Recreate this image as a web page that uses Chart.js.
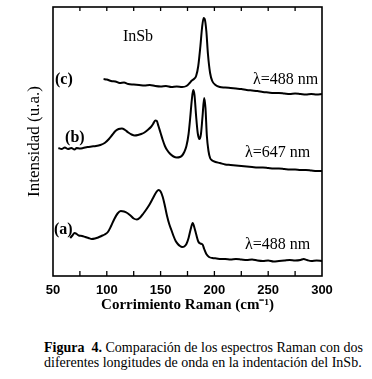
<!DOCTYPE html>
<html>
<head>
<meta charset="utf-8">
<script src="https://cdn.jsdelivr.net/npm/chart.js@4"></script>
<style>
  body { margin: 0; background: #fff; }
  #wrap { position: relative; width: 372px; height: 330px; }
  #caption {
    position: absolute; left: 44px; top: 340px; width: 330px;
    font-family: "Liberation Serif", "Times New Roman", serif;
    font-size: 14px; line-height: 15px; color: #000; white-space: nowrap;
  }
</style>
</head>
<body>
<div id="wrap"><canvas id="ramanChart"></canvas></div>
<div id="caption"><b>Figura&nbsp; 4.</b> Comparación de los espectros Raman con dos<br>diferentes longitudes de onda en la indentación del InSb.</div>
<script>
// === Data (Raman shift in cm-1, intensity in a.u. offsets) ===
const xTicks = [50, 100, 150, 200, 250, 300];

// (a) λ=488 nm, bottom spectrum
const shiftA = [66, 68, 70, 72, 74, 77, 80, 83, 86, 89, 92, 95, 98, 101, 104, 107, 110, 113, 116, 119,
  122, 125, 128, 131, 134, 137, 140, 143, 145.5, 148, 150, 152, 154, 156, 158, 160, 162, 164, 166, 168,
  170, 172, 174, 176, 178, 179.8, 181.5, 183, 185, 187, 189, 190.5, 192.5, 195, 198, 202, 206, 210, 215,
  220, 225, 230, 235, 240, 245, 250, 255, 260, 265, 270, 275, 280, 283, 286, 290, 295, 300];
const intA = [38, 40.5, 43, 42, 40.5, 40, 39, 38, 37, 37.5, 38.5, 40, 41.5, 44, 50, 57, 62.5, 65, 64.5, 63,
  60.5, 57.5, 56.5, 58.5, 62.5, 67, 72, 78, 83, 86, 84.5, 79, 70, 60, 52, 46, 40, 35, 32, 30,
  29, 29.5, 32, 38, 47, 53, 48, 42, 34.5, 32.5, 31.5, 27, 22, 19, 18, 17.5, 17, 17, 16.5,
  17, 16.5, 16, 16.5, 15.5, 15, 15.5, 14.5, 15, 15.5, 16, 15.5, 16, 17, 16, 15, 15.5, 15];

// (b) λ=647 nm, middle spectrum
const shiftB = [55, 58, 61, 64, 67, 70, 72, 75, 78, 82, 86, 90, 94, 98, 102, 105, 108, 111, 114, 117,
  120, 123, 126, 129, 132, 135, 138, 141, 143, 145, 146.5, 148, 150, 152, 154, 156, 159, 162, 165, 168,
  170, 172, 174, 176, 177.5, 179, 180.3, 181.5, 183, 184.5, 186, 187.5, 189, 190.5, 191.7, 193, 194.5, 196, 198, 201,
  205, 210, 215, 220, 225, 230, 235, 240, 245, 250, 255, 260, 265, 270, 275, 280, 285, 290, 295, 300];
const intB = [128, 127, 128.5, 127, 128, 126.5, 128, 127.5, 128, 129, 129.5, 130, 131, 133, 137, 141, 145, 147, 147.5, 146,
  143.5, 141.5, 140.5, 141, 142, 143.5, 146, 149, 152, 155.5, 155, 150, 143, 136, 130, 126, 122, 119.5, 118.5, 119,
  120.5, 124, 130, 142, 158, 176, 186, 181, 160, 143, 137, 142, 160, 178, 168, 140, 125, 118, 115.5, 114,
  113, 111.5, 111, 110.5, 110, 109.5, 109, 108.5, 108.5, 108, 107.5, 107.5, 107, 106.5, 106.5, 106, 106, 105.5, 105, 105];

// (c) λ=488 nm, top spectrum
const shiftC = [97, 100, 104, 108, 112, 116, 120, 125, 130, 135, 140, 145, 150, 155, 160, 165, 170, 174, 177, 179,
  181, 183, 185, 187, 188.5, 190, 191, 192.5, 194, 196, 198, 201, 205, 210, 215, 220, 225, 230, 235, 240,
  245, 250, 255, 260, 265, 270, 275, 280, 285, 290, 295, 300];
const intC = [197, 196.5, 195, 194.5, 193, 193.5, 192, 191.5, 191, 190.5, 191, 190, 189.5, 190, 189, 189.5, 189, 190, 193, 195.5,
  197, 200, 210, 230, 248, 258, 257, 245, 222, 203, 195, 191, 189, 188.5, 188, 187.5, 187, 186, 185.5, 185,
  184, 183.5, 183, 183, 182.5, 182, 182.5, 182, 181.5, 182, 181.5, 182];

// Text annotations placed in data coordinates
const labels = [
  { text: "InSb", x: 129, y: 239, bold: false, align: "center" },
  { text: "(c)", x: 51.9, y: 196, bold: true, align: "left" },
  { text: "λ=488 nm", x: 235.9, y: 196, bold: false, align: "left" },
  { text: "(b)", x: 61.2, y: 138, bold: true, align: "left" },
  { text: "λ=647 nm", x: 228.4, y: 123, bold: false, align: "left" },
  { text: "(a)", x: 50.9, y: 46, bold: true, align: "left" },
  { text: "λ=488 nm", x: 228.4, y: 31, bold: false, align: "left" },
];

const SERIF = "'Liberation Serif', 'Times New Roman', serif";
const SANS = "'Liberation Sans', Arial, sans-serif";

const toPoints = (xs, ys) => xs.map((x, i) => ({ x, y: ys[i] }));

// === Frame, inward ticks and annotations ===
const framePlugin = {
  id: "frame",
  afterDraw(chart) {
    const { ctx, chartArea: a, scales } = chart;
    const sx = scales.x, sy = scales.y;
    ctx.save();
    ctx.strokeStyle = "#000";
    ctx.lineWidth = 1.6;
    ctx.strokeRect(a.left, a.top, a.right - a.left, a.bottom - a.top);

    ctx.lineWidth = 1.3;
    for (let v = 75; v < 300; v += 25) {
      const px = sx.getPixelForValue(v);
      ctx.beginPath();
      ctx.moveTo(px, a.bottom);
      ctx.lineTo(px, a.bottom - 5);
      ctx.moveTo(px, a.top);
      ctx.lineTo(px, a.top + 4);
      ctx.stroke();
    }

    ctx.fillStyle = "#000";
    ctx.textBaseline = "middle";
    labels.forEach((l) => {
      ctx.font = (l.bold ? "bold " : "") + "16px " + SERIF;
      ctx.textAlign = l.align;
      ctx.fillText(l.text, sx.getPixelForValue(l.x), sy.getPixelForValue(l.y));
    });
    ctx.restore();
  },
};

const lineStyle = {
  borderColor: "#000",
  borderWidth: 2,
  pointRadius: 0,
  fill: false,
  cubicInterpolationMode: "monotone",
};

new Chart(document.getElementById("ramanChart"), {
  type: "line",
  data: {
    datasets: [
      { label: "(a) 488 nm", data: toPoints(shiftA, intA), ...lineStyle },
      { label: "(b) 647 nm", data: toPoints(shiftB, intB), ...lineStyle },
      { label: "(c) 488 nm", data: toPoints(shiftC, intC), ...lineStyle },
    ],
  },
  options: {
    responsive: true,
    maintainAspectRatio: false,
    animation: false,
    layout: { padding: { top: 7, right: 50, left: 0, bottom: 0 } },
    plugins: { legend: { display: false }, tooltip: { enabled: false } },
    scales: {
      x: {
        type: "linear",
        min: 50,
        max: 300,
        afterBuildTicks: (s) => { s.ticks = xTicks.map((v) => ({ value: v })); },
        ticks: {
          color: "#000",
          font: { family: SANS, size: 13, weight: "bold" },
          padding: 7,
          autoSkip: false,
          maxRotation: 0,
        },
        grid: { display: false, drawTicks: false },
        border: { display: false },
        title: {
          display: true,
          text: "Corrimiento Raman (cm⁻¹)",
          color: "#000",
          font: { family: SERIF, size: 15, weight: "bold" },
          padding: { top: 0, bottom: 16 },
        },
        afterFit: (s) => { s.height = 54; },
      },
      y: {
        min: 0,
        max: 269,
        ticks: { display: false },
        grid: { display: false, drawTicks: false },
        border: { display: false },
        title: {
          display: true,
          text: "Intensidad (u.a.)",
          color: "#000",
          font: { family: SERIF, size: 17 },
          padding: { top: 24, bottom: 0 },
        },
        afterFit: (s) => { s.width = 53; },
      },
    },
  },
  plugins: [framePlugin],
});
</script>
</body>
</html>
